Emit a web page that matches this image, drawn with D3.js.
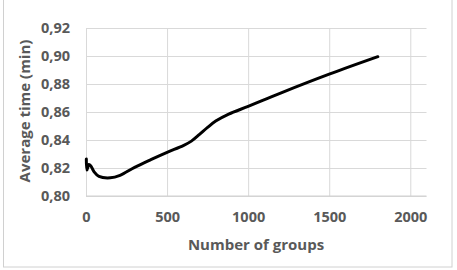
<!DOCTYPE html>
<html>
<head>
<meta charset="utf-8">
<script src="https://cdn.jsdelivr.net/npm/d3@7"></script>
<style>
  body { margin: 0; background: #fff; }
  text { font-family: "Open Sans", sans-serif; font-weight: bold; fill: #595959; }
</style>
</head>
<body>
<svg id="chart"></svg>
<script>
const groups = [2, 6, 18, 30, 50, 80, 150, 210, 300, 400, 500, 600, 650, 700, 750, 800, 880, 1000, 1200, 1500, 1800];
const avgTime = [0.8265, 0.8185, 0.8225, 0.8215, 0.8172, 0.8140, 0.8130, 0.8148, 0.8205, 0.8260, 0.8312, 0.8360, 0.8392, 0.8440, 0.8490, 0.8535, 0.8585, 0.8640, 0.8735, 0.8870, 0.8995];
const xTicks = [0, 500, 1000, 1500, 2000];
const yTicks = [0.80, 0.82, 0.84, 0.86, 0.88, 0.90, 0.92];

const width = 457, height = 270;
const svg = d3.select("#chart").attr("width", width).attr("height", height);

// outer chart frame
svg.append("rect")
    .attr("x", 3.5).attr("y", -2)
    .attr("width", 448.5).attr("height", 269)
    .attr("fill", "none")
    .attr("stroke", "#d0d0d0");

const x = d3.scaleLinear().domain([0, 2100]).range([86, 426.5]);
const y = d3.scaleLinear().domain([0.80, 0.92]).range([196, 28]);

const fmt = d => d3.format(".2f")(d).replace(".", ",");

// horizontal gridlines
svg.append("g")
    .attr("transform", "translate(" + x(0) + ",0)")
    .call(d3.axisLeft(y).tickValues(yTicks).tickSize(-(x(2100) - x(0))).tickFormat(fmt).tickPadding(16))
    .call(g => g.select(".domain").remove())
    .call(g => g.selectAll(".tick line").attr("stroke", "#d9d9d9"))
    .call(g => g.selectAll(".tick text").attr("font-size", 14.5).attr("fill", "#595959"));

// vertical gridlines + x labels
svg.append("g")
    .attr("transform", "translate(0," + y(0.80) + ")")
    .call(d3.axisBottom(x).tickValues(xTicks).tickSize(-(y(0.80) - y(0.92))).tickFormat(d3.format("d")).tickPadding(16))
    .call(g => g.select(".domain").remove())
    .call(g => g.selectAll(".tick line").attr("stroke", "#d9d9d9"))
    .call(g => g.selectAll(".tick text").attr("font-size", 14.5).attr("fill", "#595959"));

// bottom axis line
svg.append("line")
    .attr("x1", x(0)).attr("x2", x(2100))
    .attr("y1", y(0.80)).attr("y2", y(0.80))
    .attr("stroke", "#d0d0d0");

const line = d3.line()
    .x((d, i) => x(groups[i]))
    .y(d => y(d))
    .curve(d3.curveCatmullRom.alpha(0.5));

svg.append("path")
    .datum(avgTime)
    .attr("d", line)
    .attr("fill", "none")
    .attr("stroke", "#000")
    .attr("stroke-width", 3)
    .attr("stroke-linejoin", "round")
    .attr("stroke-linecap", "round");

svg.append("text")
    .attr("x", 256).attr("y", 250)
    .attr("text-anchor", "middle")
    .attr("font-size", 15)
    .text("Number of groups");

svg.append("text")
    .attr("transform", "translate(30,111) rotate(-90)")
    .attr("text-anchor", "middle")
    .attr("font-size", 15)
    .text("Average time (min)");
</script>
</body>
</html>
